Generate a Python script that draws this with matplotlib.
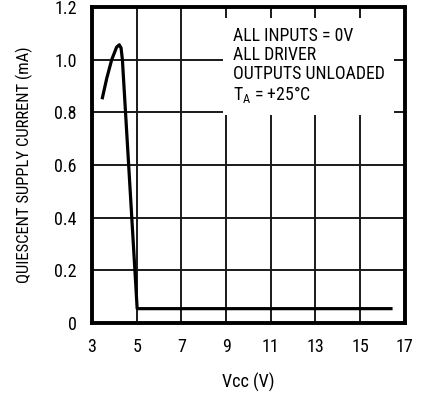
import numpy as np
import matplotlib
matplotlib.use('Agg')
import matplotlib.pyplot as plt

plt.rcParams['font.family'] = ['Roboto Condensed', 'DejaVu Sans']
plt.rcParams['mathtext.fontset'] = 'custom'
plt.rcParams['mathtext.rm'] = 'Roboto Condensed'

# supply voltage (V) and quiescent supply current (mA)
vcc = [3.45, 3.66, 3.88, 4.10, 4.22, 4.30, 4.36, 4.64, 4.92, 5.02, 16.45]
icc = [0.85, 0.93, 1.00, 1.048, 1.057, 1.045, 1.00, 0.60, 0.20, 0.055, 0.055]

x_ticks = [3, 5, 7, 9, 11, 13, 15, 17]
y_ticks = [0, 0.2, 0.4, 0.6, 0.8, 1.0, 1.2]
y_labels = ['0', '0.2', '0.4', '0.6', '0.8', '1.0', '1.2']

notes = ['ALL INPUTS = 0V', 'ALL DRIVER', 'OUTPUTS UNLOADED', r'T$\mathregular{_A}$ = +25°C']

fig = plt.figure(figsize=(4.33, 3.96), dpi=100)
ax = fig.add_axes([0.2125, 0.184, 0.7225, 0.798])

ax.plot(vcc, icc, color='black', lw=2.3, solid_capstyle='butt', zorder=3)

ax.set_xlim(3, 17)
ax.set_ylim(0, 1.2)
ax.set_xticks(x_ticks)
ax.set_yticks(y_ticks)
ax.set_yticklabels(y_labels)
ax.grid(True, color='#1a1a1a', lw=1.4)
ax.set_axisbelow(True)
ax.tick_params(length=0, labelsize=13, pad=11)
for s in ax.spines.values():
    s.set_linewidth(2.8)

ax.set_xlabel('Vcc (V)', fontsize=13, labelpad=12)
ax.set_ylabel('QUIESCENT SUPPLY CURRENT (mA)', fontsize=12, labelpad=15)

ax.text(9.3, 1.125, '\n'.join(notes), fontsize=12.8, va='top', ha='left',
        linespacing=1.08, zorder=4,
        bbox=dict(facecolor='white', edgecolor='none', pad=7))

fig.savefig('out.png', dpi=100)
